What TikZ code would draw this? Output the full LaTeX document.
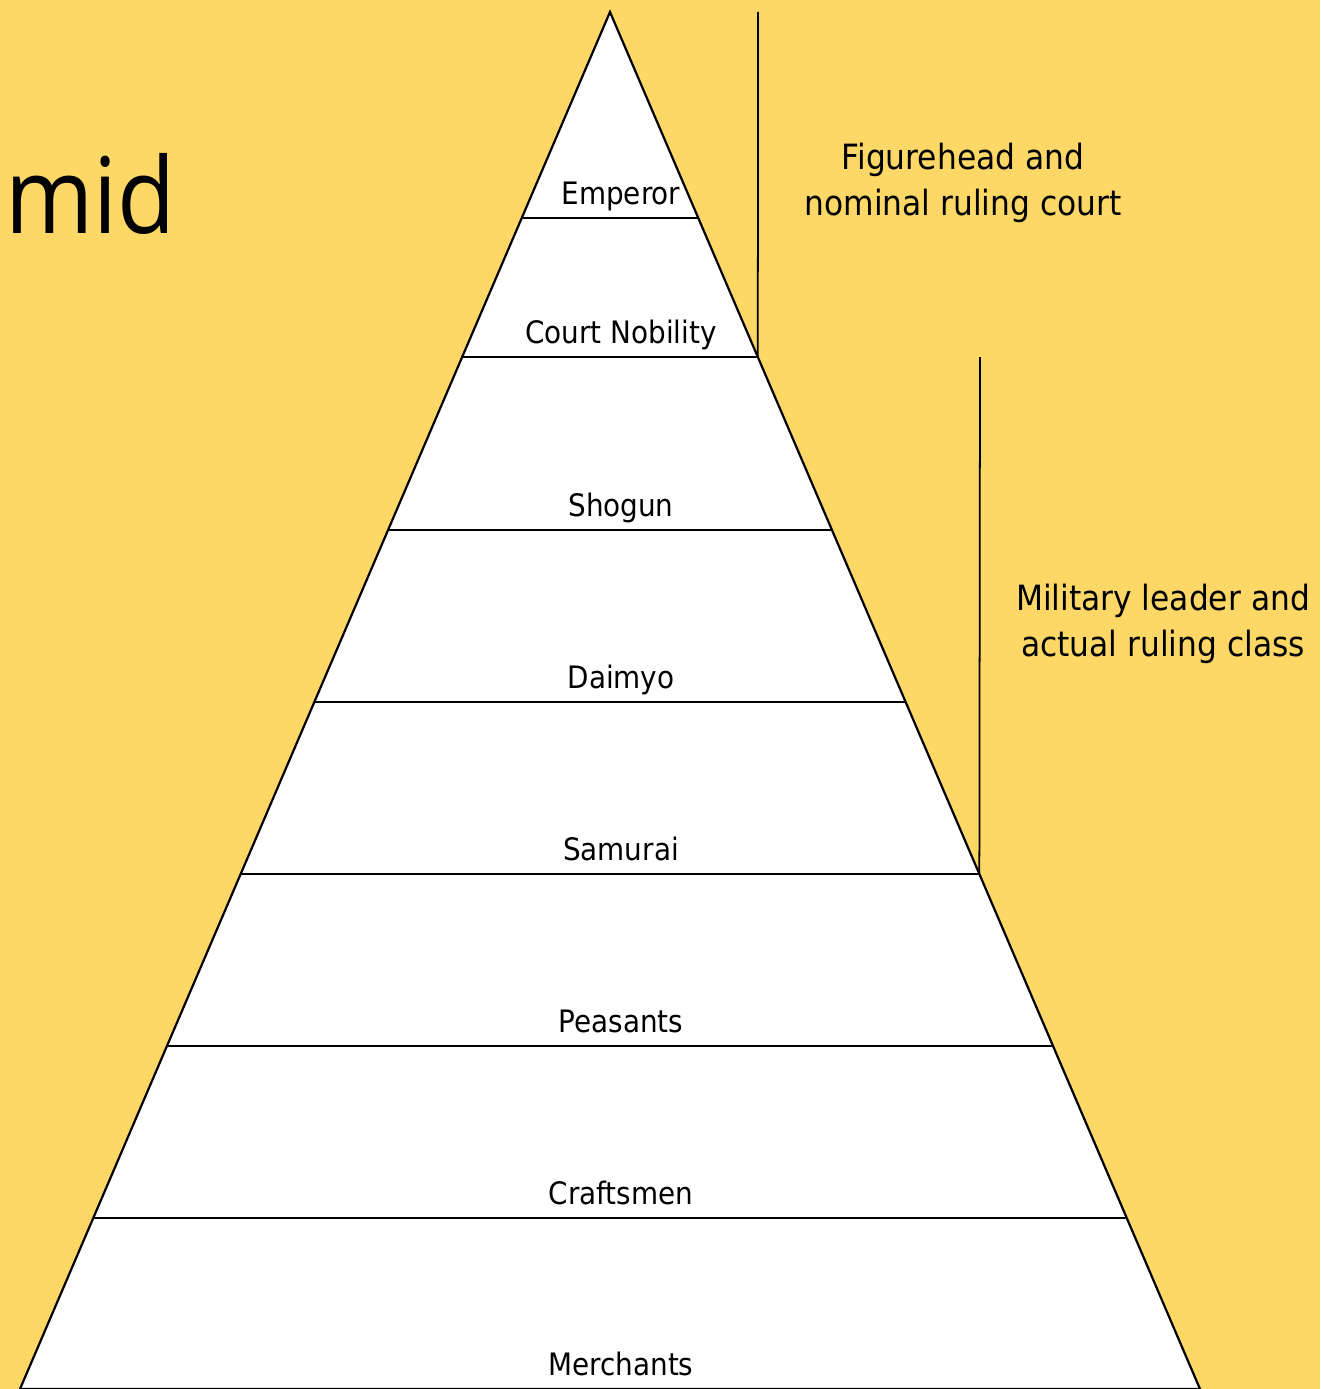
\documentclass[tikz,border=0pt]{standalone}
\usepackage{fontspec}
\setmainfont{DejaVu Sans Condensed}
\newfontfamily\titlefont[FakeStretch=0.9]{Open Sans}
\usetikzlibrary{calc}
\definecolor{bgyellow}{RGB}{253,216,102}

\begin{document}
\begin{tikzpicture}[x=0.02cm,y=-0.02cm,
        layer/.style={
            draw=black,
            line width=1.25pt},
        tag/.style={
            anchor=base,
            inner sep=0pt,
            font=\fontsize{17.6}{22}\selectfont},
        note/.style={
            align=center,
            inner sep=0pt,
            font=\fontsize{19.8}{26}\selectfont}]

    % background
    \fill[bgyellow] (0,0) rectangle (1320,1389);
    \useasboundingbox (0,0) rectangle (1320,1389);

    % the cut title
    \node[anchor=base west,inner sep=0pt,font=\titlefont\fontsize{60}{60}\selectfont] (title) at (5,233) {mid};

    % outline of the pyramid
    \coordinate (apex) at (610,12);
    \coordinate (bl) at (20,1389);
    \coordinate (br) at (1200,1389);
    \draw[layer,fill=white] (apex) -- (bl) -- (br) -- cycle;

    % draw the levels
    \foreach \y/\lbl in {218/Emperor,357/Court Nobility,530/Shogun,702/Daimyo,
            874/Samurai,1046/Peasants,1218/Craftsmen,1389/Merchants} {
        \coordinate (l\y) at ($(apex)!{(\y-12)/1377}!(bl)$);
        \coordinate (r\y) at ($(apex)!{(\y-12)/1377}!(br)$);
        \draw[layer] (l\y) -- (r\y);
        \node[tag] (n\y) at (621,\y-14) {\lbl};
    }

    % brackets on the right
    \coordinate (courttop) at (758,12);
    \draw[draw=black,line width=1pt] (courttop) -- (r357);
    \coordinate (armytop) at (980,357);
    \draw[draw=black,line width=1pt] (armytop) -- (r874);

    \node[note] (court) at (963,183) {Figurehead and\\nominal ruling court};
    \node[note] (army) at (1163,624) {Military leader and\\actual ruling class};

\end{tikzpicture}
\end{document}
